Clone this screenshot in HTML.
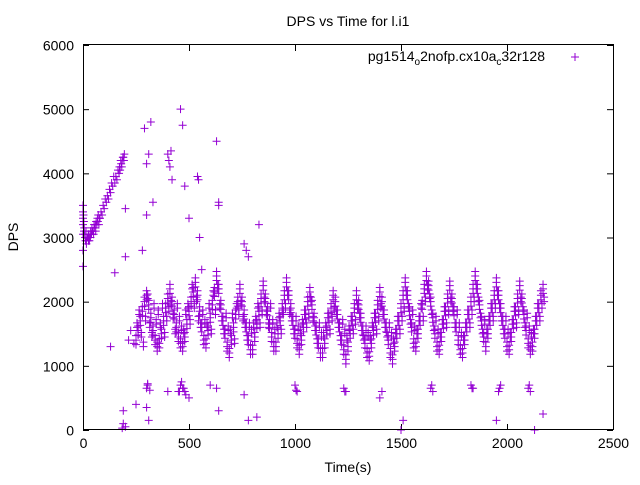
<!DOCTYPE html>
<html><head><meta charset="utf-8"><style>
body{margin:0;background:#fff;width:640px;height:480px;overflow:hidden}
svg text{font-family:"Liberation Sans",sans-serif;font-size:14px;fill:#000}
</style></head><body>
<svg id="chart" width="640" height="480">
<rect x="0" y="0" width="640" height="480" fill="#fff"/>
<g id="axes"></g>
<g id="pts"></g>
<rect x="83.5" y="44.5" width="530" height="385" fill="none" stroke="#000" stroke-width="1"/>
<text x="348" y="26" text-anchor="middle">DPS vs Time for l.i1</text>
<text x="348" y="472" text-anchor="middle">Time(s)</text>
<text x="18" y="237" text-anchor="middle" transform="rotate(-90 18 237)">DPS</text>
<text x="545" y="61" text-anchor="end">pg1514<tspan font-size="10" dy="4">o</tspan><tspan dy="-4">2nofp.cx10a</tspan><tspan font-size="10" dy="4">c</tspan><tspan dy="-4">32r128</tspan></text>
<g stroke="#9400d3" stroke-width="1"><line x1="571" y1="57" x2="579" y2="57"/><line x1="575" y1="53" x2="575" y2="61"/></g>
</svg>
<script>
const xTicks=[0,500,1000,1500,2000,2500];
const yTicks=[0,1000,2000,3000,4000,5000,6000];
const bandTimes=[250,260,270,280,290,300,310,320,330,340,350,360,370,380,390,400,410,420,430,440,450,460,470,480,490,500,510,520,530,540,550,560,570,580,590,600,610,620,630,640,650,660,670,680,690,700,710,720,730,740,750,760,770,780,790,800,810,820,830,840,850,860,870,880,890,900,910,920,930,940,950,960,970,980,990,1000,1010,1020,1030,1040,1050,1060,1070,1080,1090,1100,1110,1120,1130,1140,1150,1160,1170,1180,1190,1200,1210,1220,1230,1240,1250,1260,1270,1280,1290,1300,1310,1320,1330,1340,1350,1360,1370,1380,1390,1400,1410,1420,1430,1440,1450,1460,1470,1480,1490,1500,1510,1520,1530,1540,1550,1560,1570,1580,1590,1600,1610,1620,1630,1640,1650,1660,1670,1680,1690,1700,1710,1720,1730,1740,1750,1760,1770,1780,1790,1800,1810,1820,1830,1840,1850,1860,1870,1880,1890,1900,1910,1920,1930,1940,1950,1960,1970,1980,1990,2000,2010,2020,2030,2040,2050,2060,2070,2080,2090,2100,2110,2120,2130,2140,2150,2160,2170];
const bandDps=[1400,1550,1700,1850,2000,2100,1950,1750,1550,1400,1300,
1350,1500,1700,1900,2050,2200,2000,1800,1600,1450,1350,
1300,1450,1650,1850,2000,2150,2300,2100,1850,1600,1400,
1350,1550,1750,1950,2150,2400,2200,1950,1700,1500,1300,
1200,1400,1600,1800,2000,2200,2000,1800,1600,1400,1250,
1250,1450,1650,1850,2050,2250,2050,1850,1650,1450,1300,
1300,1500,1700,1900,2100,2300,2100,1900,1700,1500,1350,
1250,1400,1600,1800,2000,2150,1950,1750,1550,1350,1200,
1200,1350,1550,1750,1900,2100,2000,1800,1600,1400,1250,
1100,1300,1500,1700,1900,2100,1950,1750,1550,1350,1200,
1150,1350,1550,1750,1950,2150,2000,1800,1600,1400,1200,
1100,1300,1500,1700,1900,2100,2300,2100,1850,1600,1350,
1300,1500,1700,1950,2200,2400,2250,2000,1750,1500,1300,
1250,1450,1650,1850,2050,2250,2050,1850,1600,1400,1250,
1200,1400,1600,1800,2000,2200,2400,2200,1950,1700,1450,
1300,1500,1700,1900,2100,2300,2100,1900,1700,1500,1300,
1250,1450,1650,1850,2050,2250,2050,1800,1550,1350,1250,
1300,1500,1700,1900,2100,2200,2000,1800];
const bandDps2=[1600,1800,1450,1300,1700,2050,1600,1450,1900,1650,1800,
1600,1900,1450,1700,1850,1950,1750,1500,1900,1700,1550,
1500,1800,1900,1650,2200,1900,2000,1700,1600,1800,1650,
1600,1900,1500,2100,1800,2200,1900,1700,1500,1750,1550,
1500,1750,1350,1900,1800,1950,1700,1600,1400,1600,1500,
1600,1700,1900,1600,1800,2000,1800,1600,1900,1650,1500,
1600,1750,1500,1800,1900,2100,1800,1700,1500,1700,1550,
1500,1650,1800,1600,1750,2000,1700,1550,1350,1600,1450,
1450,1600,1750,1500,1700,1850,1800,1600,1400,1650,1500,
1400,1550,1700,1500,1650,1900,1750,1550,1400,1550,1450,
1400,1600,1750,1500,1700,1900,1800,1600,1450,1600,1450,
1350,1500,1700,1500,1700,1850,2100,1900,1650,1800,1550,
1500,1700,1900,1700,2000,2200,2050,1800,1550,1700,1500,
1450,1650,1850,1600,1800,2000,1850,1600,1800,1600,1450,
1400,1600,1800,1600,1800,2000,2200,2000,1750,1500,1650,
1500,1700,1900,1700,1900,2100,1900,1700,1500,1700,1500,
1450,1650,1850,1600,1800,2000,1850,1600,1750,1550,1450,
1500,1700,1900,1700,1900,2000,1800,1600];
const extraTimes=[0,0,0,0,0,0,0,5,10,15,20,25,30,35,40,45,50,55,60,65,70,75,80,90,100,110,120,130,140,150,160,170,175,180,185,190,195,130,150,200,200,190,185,215,225,240,300,310,290,320,330,300,280,400,405,410,415,420,460,470,480,540,545,630,640,640,500,550,760,770,780,830,560,
300,305,450,460,470,480,600,630,760,1000,1010,1230,1240,1400,1410,1640,1650,1830,1840,1960,1970,2100,2110,
310,400,500,640,780,820,1500,1510,1950,2130,2170,190,200,300,250,
2,4,6,8,12,14,16,18,22,26,28,32,36,38,42,48,52,58,62,68,72,78,85,95,105,115,125,135,145,155,165,172,178,183,188,193,
455,465,475,485,305,315,1005,1235,1645,1835,1965,2105];
const extraDps=[2550,2800,3050,3200,3300,3400,3500,3100,3000,2950,3000,3050,2950,3000,3050,3100,3050,3150,3100,3200,3250,3200,3300,3350,3450,3550,3600,3700,3800,3850,3900,4000,4050,4150,4200,4250,4300,1300,2450,2700,3450,300,30,1400,1550,1350,4150,4300,4700,4800,3550,3350,2800,4300,4200,4100,4350,3900,5000,4750,3800,3950,3900,4500,3500,3550,3300,3000,2900,2800,2700,3200,2500,
650,700,600,700,650,600,700,650,550,700,600,650,600,500,600,650,600,700,650,600,700,650,600,
150,600,500,300,150,200,0,150,150,0,250,100,50,350,400,
3350,3250,3150,3050,2950,3100,2900,3000,3000,2950,3050,3000,3100,3050,3150,3100,3200,3200,3250,3300,3350,3300,3400,3500,3600,3650,3750,3850,3950,3950,4050,4100,4200,4100,4250,4200,
600,750,650,550,720,620,620,600,700,650,650,700];
const X0=83,X1=613,Y0=430,Y1=45,XMAX=2500,YMAX=6000;
const sx=v=>X0+v/XMAX*(X1-X0);
const sy=v=>Y0-v/YMAX*(Y0-Y1);
const NS="http://www.w3.org/2000/svg";
const axes=document.getElementById('axes');
function mk(tag,attrs,parent){const e=document.createElementNS(NS,tag);for(const k in attrs)e.setAttribute(k,attrs[k]);parent.appendChild(e);return e;}
xTicks.forEach(t=>{const x=sx(t)+0.5;
 const l=mk('line',{x1:x,x2:x,y1:Y0,y2:Y0-6,stroke:'#000'},axes);
 
 
 const l2=mk('line',{x1:x,x2:x,y1:Y1,y2:Y1+6,stroke:'#000'},axes);
 
 
 const tx=mk('text',{x:x,y:Y0+18,'text-anchor':'middle'},axes);tx.textContent=t;
 
 });
yTicks.forEach(t=>{const y=sy(t)+0.5;
 const l=mk('line',{x1:X0,x2:X0+6,y1:y,y2:y,stroke:'#000'},axes);
 
 
 const l2=mk('line',{x1:X1,x2:X1-6,y1:y,y2:y,stroke:'#000'},axes);
 
 
 const tx=mk('text',{x:X0-9,y:y+5,'text-anchor':'end'},axes);tx.textContent=t;
 
 });
const pts=document.getElementById('pts');
function plus(t,v){const x=sx(t),y=sy(v);
 const p=mk('path',{d:`M${x-4} ${y}H${x+4}M${x} ${y-4}V${y+4}`,stroke:'#9400d3','stroke-width':1,fill:'none'},pts);
 
 }
bandTimes.forEach((t,i)=>{
 plus(t,bandDps[i]);plus(t,bandDps[i]+70);plus(t,bandDps[i]-70);
 plus(t+5,bandDps2[i]);plus(t+5,bandDps2[i]+70);});
extraTimes.forEach((t,i)=>plus(t,extraDps[i]));
</script>
</body></html>
